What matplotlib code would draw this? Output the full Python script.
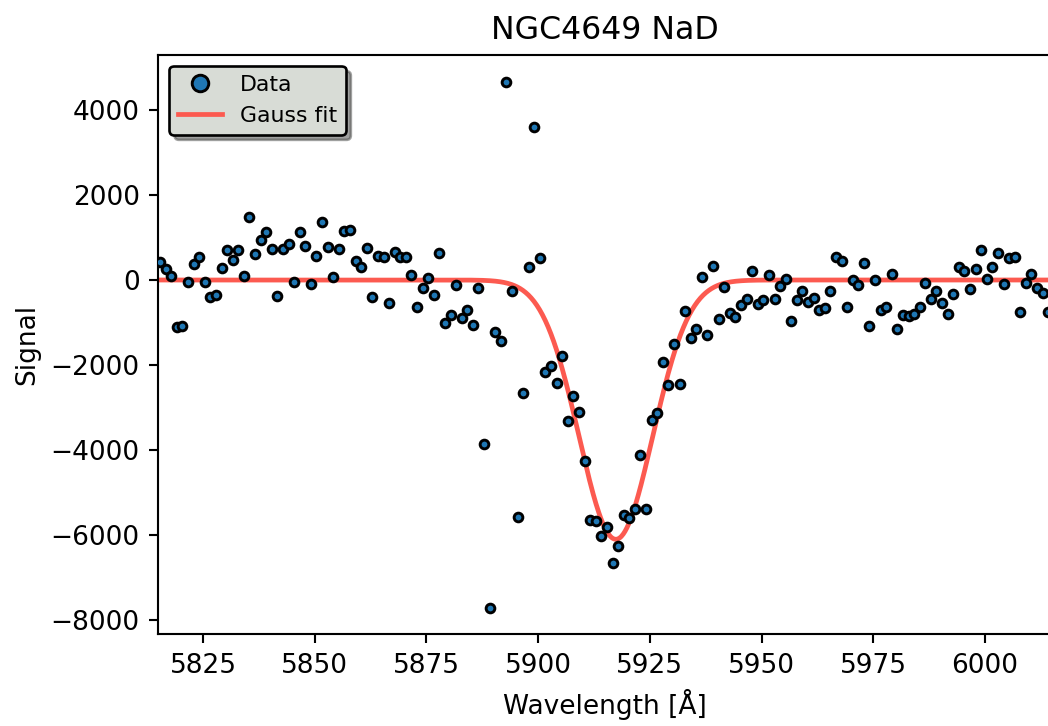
import numpy as np
import matplotlib
matplotlib.use("Agg")
import matplotlib.pyplot as plt

# Wavelength grid of the spectrum [Å]
wavelength = [
    5815.40, 5816.65, 5817.90, 5819.15, 5820.40, 5821.65, 5822.90, 5824.15,
    5825.40, 5826.65, 5827.90, 5829.15, 5830.40, 5831.65, 5832.90, 5834.15,
    5835.40, 5836.65, 5837.90, 5839.15, 5840.40, 5841.65, 5842.90, 5844.15,
    5845.40, 5846.65, 5847.90, 5849.15, 5850.40, 5851.65, 5852.90, 5854.15,
    5855.40, 5856.65, 5857.90, 5859.15, 5860.40, 5861.65, 5862.90, 5864.15,
    5865.40, 5866.65, 5867.90, 5869.15, 5870.40, 5871.65, 5872.90, 5874.15,
    5875.40, 5876.65, 5877.90, 5879.15, 5880.40, 5881.65, 5882.90, 5884.15,
    5885.40, 5886.65, 5887.90, 5889.15, 5890.40, 5891.65, 5892.90, 5894.15,
    5895.40, 5896.65, 5897.90, 5899.15, 5900.40, 5901.65, 5902.90, 5904.15,
    5905.40, 5906.65, 5907.90, 5909.15, 5910.40, 5911.65, 5912.90, 5914.15,
    5915.40, 5916.65, 5917.90, 5919.15, 5920.40, 5921.65, 5922.90, 5924.15,
    5925.40, 5926.65, 5927.90, 5929.15, 5930.40, 5931.65, 5932.90, 5934.15,
    5935.40, 5936.65, 5937.90, 5939.15, 5940.40, 5941.65, 5942.90, 5944.15,
    5945.40, 5946.65, 5947.90, 5949.15, 5950.40, 5951.65, 5952.90, 5954.15,
    5955.40, 5956.65, 5957.90, 5959.15, 5960.40, 5961.65, 5962.90, 5964.15,
    5965.40, 5966.65, 5967.90, 5969.15, 5970.40, 5971.65, 5972.90, 5974.15,
    5975.40, 5976.65, 5977.90, 5979.15, 5980.40, 5981.65, 5982.90, 5984.15,
    5985.40, 5986.65, 5987.90, 5989.15, 5990.40, 5991.65, 5992.90, 5994.15,
    5995.40, 5996.65, 5997.90, 5999.15, 6000.40, 6001.65, 6002.90, 6004.15,
    6005.40, 6006.65, 6007.90, 6009.15, 6010.40, 6011.65, 6012.90, 6014.15,
]

# Measured signal
signal = [
    431, 267, 94, -1113, -1082, -39, 369, 541,
    -55, -408, -353, 290, 706, 463, 698, 94,
    1490, 604, 941, 1137, 722, -369, 722, 855,
    -39, 1129, 792, -102, 573, 1365, 784, 63,
    722, 1145, 1180, 450, 314, 745, -392, 565,
    549, -549, 651, 549, 549, 126, -627, -180,
    39, -353, 643, -1004, -816, -126, -886, -700,
    -1065, -185, -3852, -7725, -1216, -1430, 4666, -251,
    -5577, -2659, 300, 3607, 510, -2157, -2016, -2416,
    -1788, -3318, -2722, -3098, -4251, -5655, -5678, -6016,
    -5812, -6651, -6251, -5537, -5608, -5396, -4125, -5380,
    -3294, -3137, -1937, -2471, -1514, -2440, -722, -1373,
    -1153, 63, -1294, 333, -918, -172, -784, -878,
    -596, -447, 204, -565, -463, 126, -439, -133,
    31, -973, -471, -251, -526, -416, -706, -659,
    -267, 533, 455, -627, 0, -126, 400, -1082,
    8, -706, -643, 133, -1161, -824, -847, -800,
    -627, -78, -439, -259, -533, -808, -322, 314,
    220, -220, 259, 706, 31, 306, 627, -86,
    518, 549, -745, -63, 141, -180, -314, -745,
]

# Gaussian fit parameters
fit_amplitude = -6100.0
fit_center = 5917.4
fit_sigma = 8.2
fit_baseline = 0.0

title = "NGC4649 NaD"
xlabel = "Wavelength [Å]"
ylabel = "Signal"
xlim = (5815, 6015)
ylim = (-8336, 5294)

DPI = 190
fig = plt.figure(figsize=(1048 / DPI, 726 / DPI), dpi=DPI)
ax = fig.add_axes([158.3 / 1048, (726 - 634.3) / 726,
                   (1052 - 158.3) / 1048, (634.3 - 55) / 726])

ax.plot(wavelength, signal, 'o', color='#1f77b4', markeredgecolor='black',
        markersize=3.3, markeredgewidth=1.1, label='Data', zorder=3)

xfit = np.linspace(xlim[0], xlim[1] + 10, 1000)
yfit = fit_baseline + fit_amplitude * np.exp(-0.5 * ((xfit - fit_center) / fit_sigma) ** 2)
ax.plot(xfit, yfit, '-', color='xkcd:coral', lw=1.8, label='Gauss fit', zorder=2)

ax.set_xlim(*xlim)
ax.set_ylim(*ylim)
ax.set_xticks([5825, 5850, 5875, 5900, 5925, 5950, 5975, 6000])
ax.set_yticks([-8000, -6000, -4000, -2000, 0, 2000, 4000])
ax.tick_params(labelsize=10)
ax.set_title(title, fontsize=12)
ax.set_xlabel(xlabel, fontsize=10)
ax.set_ylabel(ylabel, fontsize=10)

leg = ax.legend(loc='upper left', shadow=True, markerscale=1.9,
                facecolor='xkcd:light grey', edgecolor='black',
                framealpha=1.0, fontsize=8.33)
leg.get_frame().set_linewidth(1.0)

fig.savefig('out.png', dpi=DPI)
